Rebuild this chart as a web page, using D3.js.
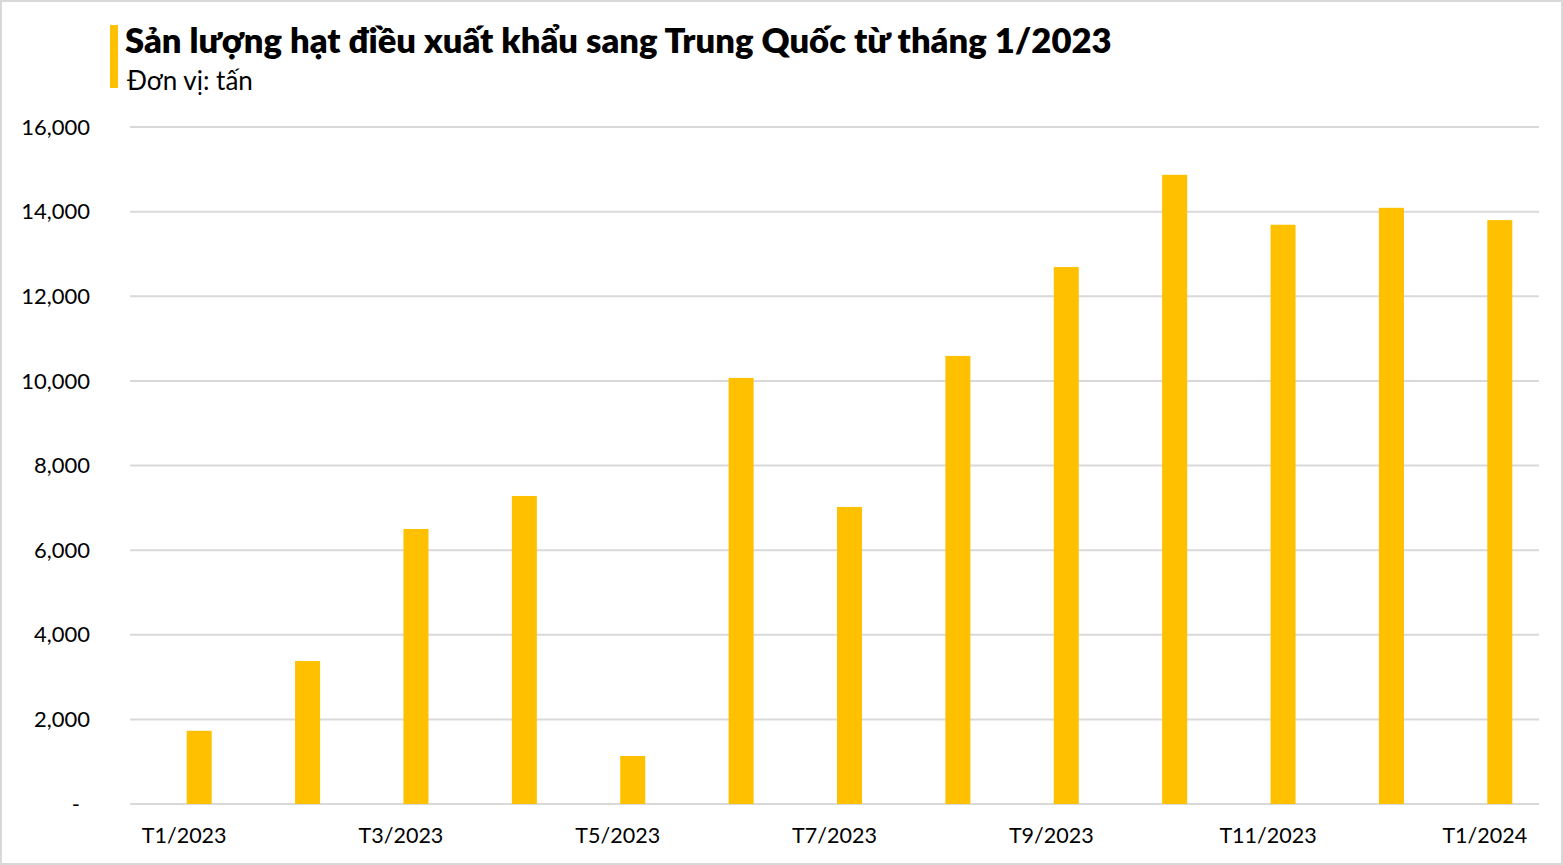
<!DOCTYPE html>
<html><head><meta charset="utf-8">
<script src="https://cdn.jsdelivr.net/npm/d3@7/dist/d3.min.js"></script>
<style>
html,body{margin:0;padding:0;background:#fff;}
svg{display:block;font-family:Lato,"Open Sans",sans-serif;}
</style></head>
<body>
<svg id="chart" width="1563" height="865"></svg>
<script>
const categories = ["T1/2023","T2/2023","T3/2023","T4/2023","T5/2023","T6/2023","T7/2023","T8/2023","T9/2023","T10/2023","T11/2023","T12/2023","T1/2024"];
const values = [1730, 3380, 6500, 7280, 1135, 10070, 7020, 10590, 12690, 14870, 13690, 14090, 13800];
const yTicks = [0, 2000, 4000, 6000, 8000, 10000, 12000, 14000, 16000];
const shownLabels = ["T1/2023","T3/2023","T5/2023","T7/2023","T9/2023","T11/2023","T1/2024"];
const title = "Sản lượng hạt điều xuất khẩu sang Trung Quốc từ tháng 1/2023";
const subtitle = "Đơn vị: tấn";

const W = 1563, H = 865;
const m = {left:130, right:24, top:127, bottom:61};
const svg = d3.select("#chart");

svg.append("rect").attr("x",1).attr("y",1).attr("width",W-2).attr("height",H-2)
  .attr("fill","#fff").attr("stroke","#d9d9d9").attr("stroke-width",2);

const x = d3.scaleBand().domain(categories).range([m.left, W - m.right]).padding(0);
const y = d3.scaleLinear().domain([0,16000]).range([H - m.bottom, m.top]);

// gridlines
svg.append("g").selectAll("line").data(yTicks).join("line")
  .attr("x1", m.left).attr("x2", W - m.right)
  .attr("y1", d=>y(d)).attr("y2", d=>y(d))
  .attr("stroke","#d9d9d9").attr("stroke-width",2);

// y labels
const fmt = d3.format(",");
svg.append("g").selectAll("text").data(yTicks).join("text")
  .attr("x", d => d === 0 ? 80 : 90).attr("y", d=>y(d)).attr("dy","0.35em")
  .attr("text-anchor","end").attr("font-size",22).attr("fill","#000")
  .text(d => d === 0 ? "-" : fmt(d));

// bars (single visible series sits right of category centre)
const barW = 25, barOffset = 15;
svg.append("g").selectAll("rect").data(values).join("rect")
  .attr("x", (d,i)=> x(categories[i]) + x.bandwidth()/2 + barOffset - barW/2)
  .attr("width", barW)
  .attr("y", d=>y(d)).attr("height", d=>y(0)-y(d))
  .attr("fill","#FFC000");

// x labels
svg.append("g").selectAll("text").data(shownLabels).join("text")
  .attr("x", d=> x(d) + x.bandwidth()/2).attr("y", 843)
  .attr("text-anchor","middle").attr("font-size",21.5).attr("fill","#000")
  .text(d=>d);

// title
svg.append("rect").attr("x",110).attr("y",25).attr("width",8).attr("height",63).attr("fill","#FFC000");
svg.append("text").attr("x",125).attr("y",53).attr("font-size",34.6).attr("font-weight",800)
  .attr("fill","#000").text(title);
svg.append("text").attr("x",127).attr("y",90).attr("font-size",26)
  .attr("fill","#000").text(subtitle);
</script>
</body></html>
